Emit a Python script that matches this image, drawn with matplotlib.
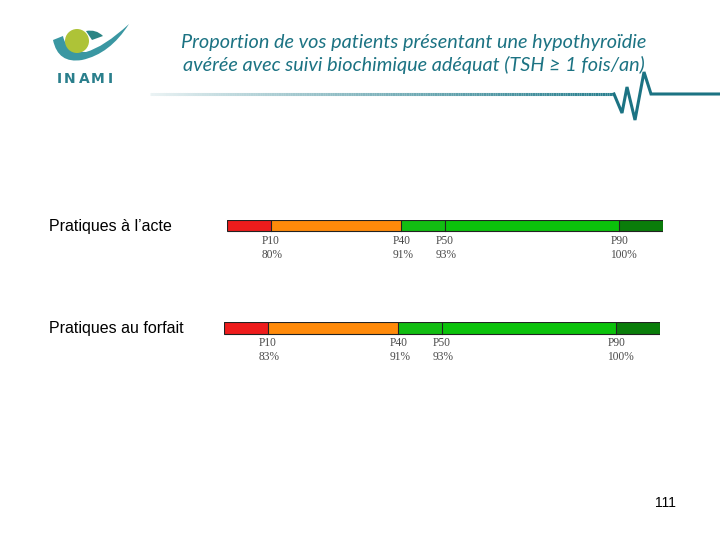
import numpy as np
import matplotlib.pyplot as plt
from matplotlib.patches import Circle, PathPatch, Rectangle
from matplotlib.path import Path
from matplotlib.collections import LineCollection

# percentile positions on the bar and their labels
ranks = [10, 40, 50, 90]
pct_labels = ['P10', 'P40', 'P50', 'P90']
acte_values = [80, 91, 93, 100]
forfait_values = [83, 91, 93, 100]
edges = [0, 10, 40, 50, 90, 100]
seg_colors = ['#EE1C1C', '#FF8A0A', '#12BD12', '#0BC20B', '#0A7D0A']
groups = ['Pratiques à l\u2019acte', 'Pratiques au forfait']

title = ('Proportion de vos patients présentant une hypothyroïdie\n'
         'avérée avec suivi biochimique adéquat (TSH \u2265 1 fois/an)')

teal = '#1C7383'
W, H = 720, 540

fig = plt.figure(figsize=(7.2, 5.4), dpi=100)

# background axes in pixel coordinates for the slide decoration
bg = fig.add_axes([0, 0, 1, 1])
bg.set_xlim(0, W)
bg.set_ylim(H, 0)
bg.axis('off')

# logo: crescent, leaf, circle and name
crescent = Path([(53, 40), (58, 64), (82, 60), (110, 54), (129, 24),
                 (104, 47), (86, 52), (66, 52), (63, 36), (53, 40)],
                [Path.MOVETO, Path.CURVE3, Path.CURVE3, Path.CURVE3, Path.CURVE3,
                 Path.CURVE3, Path.CURVE3, Path.CURVE3, Path.CURVE3, Path.CLOSEPOLY])
bg.add_patch(PathPatch(crescent, fc='#3A97A2', ec='none'))
leaf = Path([(86, 31), (96, 29), (103, 36), (92, 40), (86, 31)],
            [Path.MOVETO, Path.CURVE3, Path.CURVE3, Path.LINETO, Path.CLOSEPOLY])
bg.add_patch(PathPatch(leaf, fc='#2A8584', ec='none'))
bg.add_patch(Circle((77, 41), 12, fc='#AEC337', ec='none'))
for ch, x in zip('INAMI', [59, 70, 84, 98, 110]):
    bg.text(x, 79, ch, color='#2A7F8C', fontsize=10, ha='center', va='center',
            family='DejaVu Sans', fontweight='semibold')

# title
bg.text(414, 54, title, color=teal, fontsize=14.3, style='italic', ha='center',
        va='center', family='Lato', linespacing=1.32)

# underline with gradient and heartbeat zigzag
xs = np.linspace(150, 614, 200)
pts = np.column_stack([xs, np.full_like(xs, 94)])
segs = np.stack([pts[:-1], pts[1:]], axis=1)
alphas = np.linspace(0.05, 1, len(segs)) ** 0.8
cols = [(0.16, 0.50, 0.56, a) for a in alphas]
bg.add_collection(LineCollection(segs, colors=cols, linewidths=2.2))
zx = [614, 622, 627, 635, 644, 651, 720]
zy = [94, 113, 87, 120, 72, 94, 94]
bg.plot(zx, zy, color=teal, lw=2.2, solid_joinstyle='miter')

# page number
bg.text(665, 503, '111', fontsize=10, ha='center', va='center', family='Liberation Sans')

# bars
bar_lefts = [227, 224]
bar_tops = [220, 322]
values = [acte_values, forfait_values]
for g, left, top, vals in zip(groups, bar_lefts, bar_tops, values):
    bg.text(49, top + 6.5, g, fontsize=11.5, ha='left', va='center', family='Liberation Sans')
    ax = fig.add_axes([left / W, 1 - (top + 45) / H, 436 / W, 45 / H])
    ax.set_xlim(0, 100)
    ax.set_ylim(45, 0)
    ax.axis('off')
    for i in range(len(edges) - 1):
        ax.add_patch(Rectangle((edges[i], 0), edges[i + 1] - edges[i], 11.5,
                               fc=seg_colors[i], ec='none'))
    ax.add_patch(Rectangle((0, 0), 100, 11.5, fc='none', ec='#222222', lw=0.8))
    for r in ranks:
        ax.plot([r, r], [0, 11.5], color='#222222', lw=0.8)
    for r, lab, v in zip(ranks, pct_labels, vals):
        ax.text(r - 2.1, 28, f'{lab}\n{v}%', fontsize=8.3, color='#4A4A4A', ha='left',
                va='center', family='Liberation Serif', linespacing=1.3)

fig.savefig('out.png', dpi=100)
